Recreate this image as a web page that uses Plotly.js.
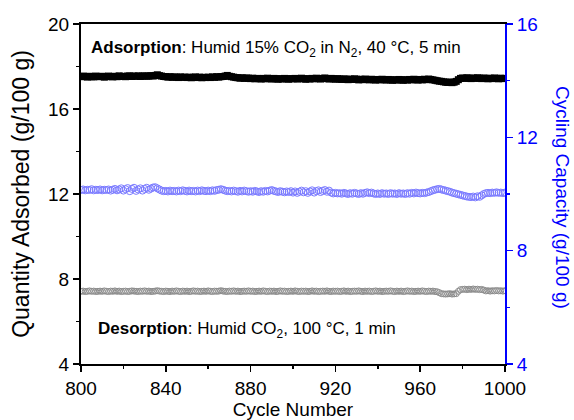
<!DOCTYPE html>
<html>
<head>
<meta charset="utf-8">
<script src="https://cdn.plot.ly/plotly-3.0.1.min.js"></script>
<style>html,body{margin:0;padding:0;background:#fff;}#chart{width:574px;height:420px;}</style>
</head>
<body>
<div id="chart"></div>
<script>
// Cycle numbers start at 800, one point per cycle
const firstCycle = 800;

// Adsorption quantity (g/100 g), left axis
const adsorbed = [
17.52,17.55,17.53,17.50,17.54,17.52,17.51,17.55,17.53,17.52,17.54,17.50,17.52,17.55,17.53,17.51,17.54,17.52,17.56,17.53,
17.54,17.52,17.55,17.56,17.53,17.55,17.54,17.56,17.53,17.55,17.56,17.54,17.55,17.57,17.55,17.58,17.61,17.57,17.55,17.53,
17.52,17.50,17.52,17.49,17.51,17.50,17.48,17.51,17.49,17.50,17.48,17.50,17.47,17.49,17.51,17.48,17.50,17.47,17.49,17.48,
17.50,17.48,17.51,17.49,17.52,17.50,17.52,17.53,17.55,17.58,17.54,17.52,17.50,17.48,17.47,17.45,17.47,17.44,17.46,17.45,
17.43,17.45,17.42,17.44,17.43,17.41,17.44,17.42,17.45,17.43,17.41,17.44,17.42,17.40,17.43,17.41,17.44,17.42,17.40,17.43,
17.42,17.44,17.41,17.43,17.45,17.42,17.40,17.43,17.41,17.44,17.42,17.45,17.43,17.41,17.44,17.46,17.43,17.41,17.44,17.42,
17.40,17.43,17.41,17.39,17.42,17.40,17.38,17.41,17.39,17.42,17.40,17.37,17.40,17.38,17.41,17.39,17.37,17.40,17.38,17.36,
17.39,17.37,17.40,17.38,17.36,17.39,17.37,17.35,17.38,17.36,17.39,17.37,17.35,17.38,17.36,17.39,17.37,17.40,17.38,17.36,
17.39,17.37,17.40,17.38,17.41,17.39,17.37,17.35,17.33,17.31,17.30,17.28,17.26,17.25,17.27,17.24,17.26,17.30,17.38,17.44,
17.46,17.44,17.47,17.45,17.43,17.46,17.44,17.47,17.45,17.43,17.46,17.44,17.42,17.45,17.43,17.46,17.44,17.42,17.45,17.43,17.44
];

// Cycling capacity (g/100 g), right axis
const capacity = [
10.14,10.16,10.13,10.15,10.14,10.17,10.13,10.15,10.14,10.16,10.13,10.15,10.14,10.16,10.12,10.15,10.18,10.13,10.16,10.20,
10.12,10.17,10.21,10.10,10.18,10.22,10.11,10.16,10.20,10.12,10.18,10.22,10.15,10.19,10.23,10.24,10.20,10.16,10.12,10.10,
10.11,10.09,10.12,10.10,10.11,10.09,10.12,10.10,10.13,10.11,10.09,10.12,10.10,10.11,10.09,10.12,10.10,10.13,10.11,10.10,
10.12,10.10,10.13,10.11,10.14,10.15,10.17,10.15,10.12,10.10,10.11,10.09,10.12,10.10,10.08,10.11,10.09,10.12,10.10,10.08,
10.10,10.08,10.11,10.09,10.07,10.10,10.08,10.11,10.09,10.12,10.14,10.11,10.09,10.07,10.10,10.08,10.06,10.09,10.07,10.10,
10.05,10.09,10.04,10.08,10.12,10.06,10.10,10.04,10.09,10.13,10.05,10.10,10.13,10.07,10.11,10.14,10.08,10.12,10.05,10.02,
10.04,10.02,10.03,10.01,10.04,10.02,10.00,10.03,10.01,10.04,10.02,10.00,10.03,10.01,10.04,10.06,10.03,10.05,10.02,10.00,
10.02,10.00,10.03,10.01,10.02,10.00,10.03,10.01,10.02,10.00,10.03,10.01,10.02,10.00,10.03,10.01,10.04,10.02,10.05,10.03,
10.02,10.04,10.03,10.05,10.07,10.10,10.13,10.15,10.17,10.18,10.16,10.14,10.12,10.10,10.08,10.05,10.03,10.01,9.99,9.97,
9.95,9.93,9.91,9.90,9.89,9.91,9.88,9.92,9.90,9.95,10.00,10.03,10.04,10.03,10.05,10.04,10.06,10.04,10.05,10.03,10.05
];

// Desorption quantity (g/100 g), left axis
const desorbed = [
7.42,7.43,7.41,7.42,7.44,7.42,7.43,7.41,7.42,7.43,7.42,7.44,7.42,7.41,7.43,7.42,7.44,7.42,7.43,7.41,
7.42,7.43,7.41,7.42,7.44,7.43,7.42,7.41,7.43,7.42,7.44,7.42,7.43,7.41,7.42,7.43,7.45,7.43,7.42,7.41,
7.43,7.42,7.41,7.43,7.42,7.44,7.42,7.41,7.43,7.42,7.43,7.41,7.42,7.44,7.42,7.43,7.41,7.42,7.43,7.42,
7.44,7.42,7.41,7.43,7.42,7.43,7.45,7.43,7.42,7.41,7.43,7.42,7.44,7.42,7.43,7.41,7.42,7.43,7.42,7.44,
7.42,7.43,7.41,7.42,7.43,7.42,7.44,7.42,7.41,7.43,7.42,7.43,7.41,7.42,7.44,7.42,7.43,7.41,7.42,7.43,
7.42,7.44,7.42,7.41,7.43,7.42,7.43,7.41,7.42,7.44,7.42,7.43,7.41,7.42,7.43,7.42,7.44,7.42,7.41,7.43,
7.42,7.43,7.41,7.42,7.44,7.42,7.43,7.41,7.42,7.43,7.42,7.44,7.42,7.41,7.43,7.42,7.43,7.41,7.42,7.44,
7.42,7.43,7.41,7.42,7.43,7.42,7.44,7.42,7.41,7.43,7.42,7.43,7.41,7.42,7.44,7.42,7.43,7.41,7.42,7.43,
7.42,7.44,7.42,7.41,7.43,7.42,7.43,7.41,7.40,7.36,7.31,7.30,7.29,7.30,7.31,7.29,7.30,7.31,7.42,7.50,
7.51,7.52,7.50,7.52,7.51,7.53,7.51,7.52,7.50,7.51,7.48,7.44,7.45,7.43,7.45,7.44,7.46,7.44,7.45,7.43,7.45
];

const xTicks = [800, 840, 880, 920, 960, 1000];
const leftTicks = [4, 8, 12, 16, 20];
const rightTicks = [4, 8, 12, 16];

const cycles = adsorbed.map((_, i) => firstCycle + i);
const FONT = 'Liberation Sans, Arial, sans-serif';

const traces = [
  {x: cycles, y: desorbed, type: 'scatter', mode: 'markers', yaxis: 'y',
   marker: {symbol: 'circle-open', size: 6, color: '#8c8c8c', line: {width: 1, color: '#8c8c8c'}}},
  {x: cycles, y: capacity, type: 'scatter', mode: 'markers', yaxis: 'y2',
   marker: {symbol: 'circle-open', size: 7, color: '#7b7bff', line: {width: 1, color: '#7b7bff'}}},
  {x: cycles, y: adsorbed, type: 'scatter', mode: 'markers', yaxis: 'y',
   marker: {symbol: 'square', size: 7, color: '#000000', line: {width: 0}}}
];

const layout = {
  width: 574, height: 420,
  margin: {l: 81, r: 69, t: 24, b: 56, pad: 0},
  paper_bgcolor: '#ffffff', plot_bgcolor: '#ffffff',
  showlegend: false,
  font: {family: FONT, size: 19, color: '#000'},
  xaxis: {
    range: [800, 1000], tickvals: xTicks, ticktext: xTicks.map(String),
    ticks: 'outside', ticklen: 6, tickwidth: 1.5, tickcolor: '#000',
    minor: {tickvals: [820, 860, 900, 940, 980], ticks: 'outside', ticklen: 3, tickwidth: 1.5, tickcolor: '#000'},
    showline: true, linecolor: '#000', linewidth: 2, mirror: true,
    showgrid: false, zeroline: false,
    tickfont: {family: FONT, size: 19, color: '#000'},
    title: {text: 'Cycle Number', font: {family: FONT, size: 19, color: '#000'}, standoff: 4}
  },
  yaxis: {
    range: [4, 20], tickvals: leftTicks, ticktext: leftTicks.map(String),
    ticks: 'outside', ticklen: 6, tickwidth: 1.5, tickcolor: '#000',
    minor: {tickvals: [6, 10, 14, 18], ticks: 'outside', ticklen: 3, tickwidth: 1.5, tickcolor: '#000'},
    showline: true, linecolor: '#000', linewidth: 2, mirror: false,
    showgrid: false, zeroline: false,
    tickfont: {family: FONT, size: 19, color: '#000'},
    title: {text: 'Quantity Adsorbed (g/100 g)', font: {family: FONT, size: 23, color: '#000'}, standoff: 12}
  },
  yaxis2: {
    overlaying: 'y', side: 'right',
    range: [4, 16], tickvals: rightTicks, ticktext: rightTicks.map(String),
    ticks: 'outside', ticklen: 6, tickwidth: 1.5, tickcolor: '#0000ff',
    minor: {tickvals: [6, 10, 14], ticks: 'outside', ticklen: 3, tickwidth: 1.5, tickcolor: '#0000ff'},
    showline: true, linecolor: '#0000ff', linewidth: 2,
    showgrid: false, zeroline: false,
    tickfont: {family: FONT, size: 19, color: '#0000ff'}
  },
  annotations: [
    {xref: 'paper', yref: 'paper', x: 0.019, y: 0.926, xanchor: 'left', yanchor: 'middle', showarrow: false,
     text: '<b>Adsorption</b>: Humid 15% CO<sub>2</sub> in N<sub>2</sub>, 40 °C, 5 min',
     font: {family: FONT, size: 17, color: '#000'}},
    {xref: 'paper', yref: 'paper', x: 0.036, y: 0.1, xanchor: 'left', yanchor: 'middle', showarrow: false,
     text: '<b>Desorption</b>: Humid CO<sub>2</sub>, 100 °C, 1 min',
     font: {family: FONT, size: 17, color: '#000'}},
    {xref: 'paper', yref: 'paper', x: 1.137, y: 0.491, xanchor: 'center', yanchor: 'middle', showarrow: false,
     textangle: 90, text: 'Cycling Capacity (g/100 g)',
     font: {family: FONT, size: 19, color: '#0000ff'}}
  ]
};

Plotly.newPlot('chart', traces, layout, {displayModeBar: false, staticPlot: true});
</script>
</body>
</html>
